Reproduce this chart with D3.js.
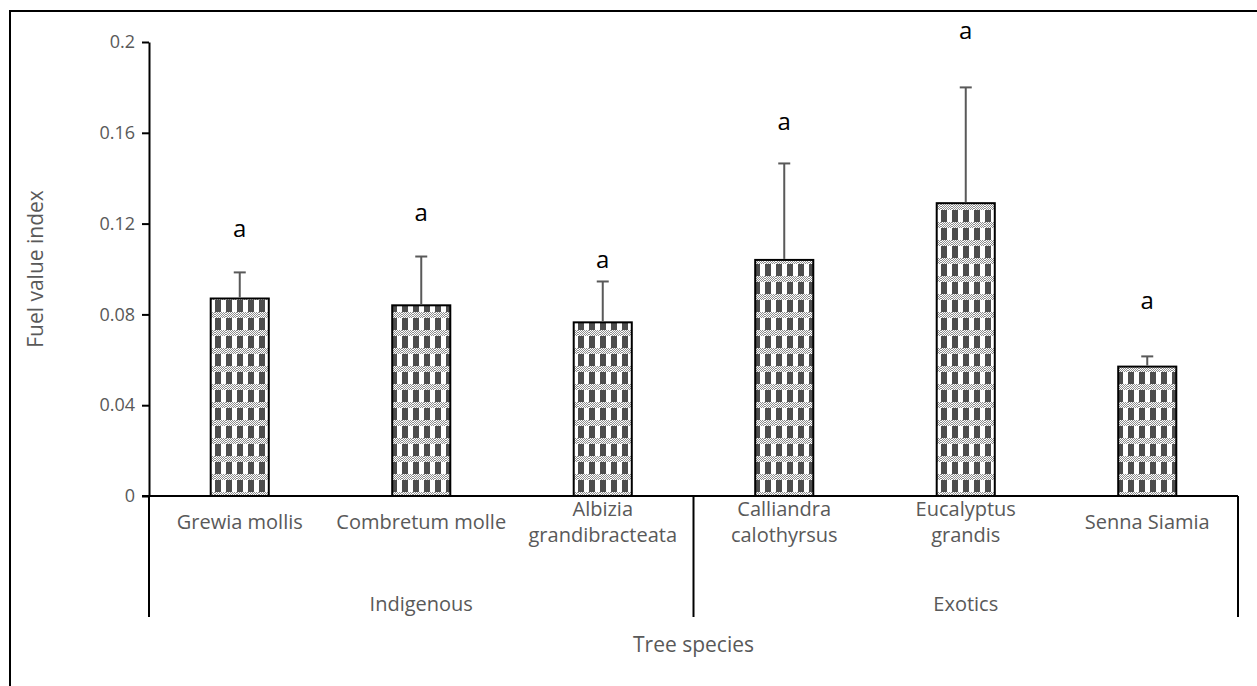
<!DOCTYPE html>
<html>
<head>
<meta charset="utf-8">
<script src="https://cdn.jsdelivr.net/npm/d3@7"></script>
<style>
  body { margin:0; background:#fff; }
  text { font-family: "Open Sans", sans-serif; }
</style>
</head>
<body>
<div id="chart"></div>
<script>
// data
var species = ["Grewia mollis", "Combretum molle", "Albizia grandibracteata",
               "Calliandra calothyrsus", "Eucalyptus grandis", "Senna Siamia"];
var speciesLines = [["Grewia mollis"], ["Combretum molle"], ["Albizia", "grandibracteata"],
                    ["Calliandra", "calothyrsus"], ["Eucalyptus", "grandis"], ["Senna Siamia"]];
var groups = ["Indigenous", "Exotics"];
var groupSize = [3, 3];
var fuelIndex = [0.087, 0.084, 0.0765, 0.104, 0.129, 0.057];
var errorUp = [0.0115, 0.0215, 0.018, 0.0425, 0.051, 0.0045];
var letters = ["a", "a", "a", "a", "a", "a"];
var letterAt = [0.118, 0.125, 0.104, 0.165, 0.205, 0.086];
var yTicks = [0, 0.04, 0.08, 0.12, 0.16, 0.2];

var W = 1257, H = 686;
var margin = {top: 42, left: 149, right: 19, bottom: 190};
var width = W - margin.left - margin.right,
    height = H - margin.top - margin.bottom;

var svg = d3.select("#chart").append("svg")
  .attr("width", W).attr("height", H);

// outer frame (runs off the right and bottom)
svg.append("rect")
  .attr("x", 10).attr("y", 11).attr("width", 1400).attr("height", 800)
  .attr("fill", "none").attr("stroke", "#000").attr("stroke-width", 2);

// bar fill pattern: dark blocks + small checker bands
var pat = svg.append("defs").append("pattern")
  .attr("id", "plaid").attr("patternUnits", "userSpaceOnUse")
  .attr("width", 11).attr("height", 18);
pat.append("rect").attr("width", 11).attr("height", 18).attr("fill", "#fff");
pat.append("rect").attr("x", 0).attr("width", 6).attr("height", 18).attr("fill", "#4d4d4d");
for (var i = 0; i < 11; i++) {
  for (var j = 0; j < 6; j++) {
    pat.append("rect").attr("x", i).attr("y", j).attr("width", 1).attr("height", 1)
      .attr("fill", (i + j) % 2 == 0 ? "#8c8c8c" : "#fff");
  }
}

var g = svg.append("g")
  .attr("transform", "translate(" + margin.left + "," + margin.top + ")");

var x = d3.scaleBand().domain(species).range([0, width]).paddingInner(0.68).paddingOuter(0.34);
var y = d3.scaleLinear().domain([0, 0.2]).range([height, 0]);

// y axis
var yAxis = g.append("g")
  .call(d3.axisLeft(y).tickValues(yTicks).tickSize(7).tickSizeOuter(0)
    .tickFormat(function(d){ return d === 0 ? "0" : d3.format("")(+d.toFixed(2)); }));
yAxis.select(".domain").attr("stroke", "#000").attr("stroke-width", 2);
yAxis.selectAll(".tick line").attr("stroke", "#000").attr("stroke-width", 2);
yAxis.selectAll(".tick text").attr("fill", "#595959").style("font-size", "18px").attr("x", -14);

// bars
g.selectAll(".bar")
  .data(fuelIndex)
  .enter().append("rect")
  .attr("class", "bar")
  .attr("x", function(d, i){ return x(species[i]); })
  .attr("y", function(d){ return y(d); })
  .attr("width", x.bandwidth())
  .attr("height", function(d){ return height - y(d); })
  .attr("fill", "url(#plaid)")
  .attr("stroke", "#000").attr("stroke-width", 2);

// error bars (upper only)
var cx = function(i){ return x(species[i]) + x.bandwidth() / 2; };
g.selectAll(".err")
  .data(fuelIndex)
  .enter().append("line")
  .attr("x1", function(d, i){ return cx(i); })
  .attr("x2", function(d, i){ return cx(i); })
  .attr("y1", function(d){ return y(d) - 1; })
  .attr("y2", function(d, i){ return y(d + errorUp[i]); })
  .attr("stroke", "#595959").attr("stroke-width", 2);
g.selectAll(".cap")
  .data(fuelIndex)
  .enter().append("line")
  .attr("x1", function(d, i){ return cx(i) - 6; })
  .attr("x2", function(d, i){ return cx(i) + 6; })
  .attr("y1", function(d, i){ return y(d + errorUp[i]); })
  .attr("y2", function(d, i){ return y(d + errorUp[i]); })
  .attr("stroke", "#595959").attr("stroke-width", 2);

// significance letters
g.selectAll(".letter")
  .data(letters)
  .enter().append("text")
  .attr("x", function(d, i){ return cx(i); })
  .attr("y", function(d, i){ return y(letterAt[i]); })
  .attr("dy", "0.35em")
  .attr("text-anchor", "middle")
  .style("font-size", "24px")
  .attr("fill", "#000")
  .text(function(d){ return d; });

// category axis (two levels)
var lineBottom = height + 121;
g.append("line").attr("x1", -7).attr("x2", width).attr("y1", height).attr("y2", height)
  .attr("stroke", "#000").attr("stroke-width", 2);
var start = 0, bounds = [0];
groupSize.forEach(function(n){ start += n; bounds.push(start); });
bounds.forEach(function(b){
  var px = b < species.length ? x.step() * b : width;
  g.append("line").attr("x1", px).attr("x2", px).attr("y1", height).attr("y2", lineBottom)
    .attr("stroke", "#000").attr("stroke-width", 2);
});

// one text element per label line
speciesLines.forEach(function(lines, i){
  lines.forEach(function(s, k){
    g.append("text")
      .attr("text-anchor", "middle")
      .attr("fill", "#595959")
      .style("font-size", "20px")
      .attr("x", cx(i))
      .attr("y", height + 26 - (lines.length - 1) * 13 + k * 26)
      .attr("dy", "0.35em")
      .text(s);
  });
});

g.selectAll(".grp")
  .data(groups)
  .enter().append("text")
  .attr("text-anchor", "middle")
  .attr("fill", "#595959")
  .style("font-size", "20px")
  .attr("x", function(d, i){ return x.step() * (bounds[i] + bounds[i + 1]) / 2; })
  .attr("y", height + 108)
  .attr("dy", "0.35em")
  .text(function(d){ return d; });

// axis titles
svg.append("text")
  .attr("x", margin.left + width / 2).attr("y", 645).attr("dy", "0.35em")
  .attr("text-anchor", "middle").attr("fill", "#595959").style("font-size", "21px")
  .text("Tree species");
svg.append("text")
  .attr("transform", "translate(36," + (margin.top + height / 2) + ") rotate(-90)")
  .attr("dy", "0.35em")
  .attr("text-anchor", "middle").attr("fill", "#595959").style("font-size", "21px")
  .text("Fuel value index");
</script>
</body>
</html>
